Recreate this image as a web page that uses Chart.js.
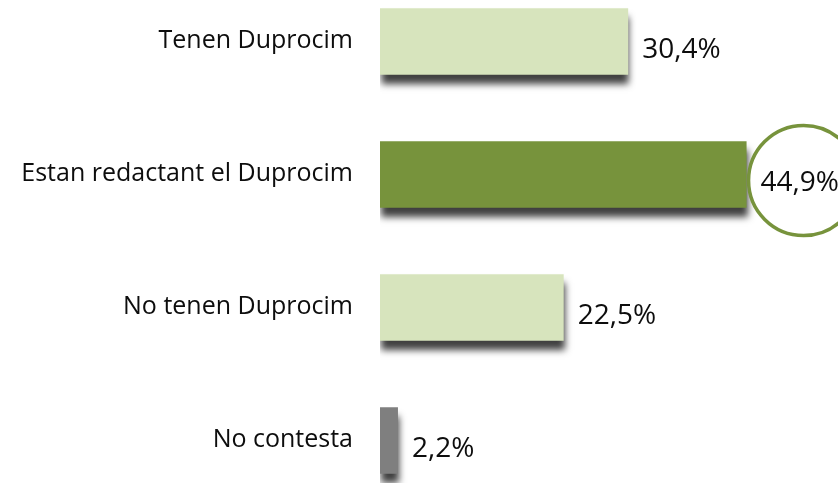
<!DOCTYPE html>
<html>
<head>
<meta charset="utf-8">
<script src="https://cdn.jsdelivr.net/npm/chart.js@4"></script>
<style>
  html, body { margin: 0; padding: 0; background: #fff; overflow: hidden; }
  body { width: 838px; height: 483px; position: relative; }
  #wrap { position: absolute; left: 0; top: -25px; width: 838px; height: 532px; }
</style>
</head>
<body>
<div id="wrap"><canvas id="duprocim"></canvas></div>
<script>
/* Duprocim: estat de redacció (percentatges) */
const CATEGORIES = ['Tenen Duprocim', 'Estan redactant el Duprocim', 'No tenen Duprocim', 'No contesta'];
const VALUES = [30.4, 44.9, 22.5, 2.2];
const VALUE_LABELS = ['30,4%', '44,9%', '22,5%', '2,2%'];
const BAR_COLORS = ['#d7e4bd', '#77933c', '#d7e4bd', '#7f7f7f'];
const HIGHLIGHT = 1; // barra amb cercle

const shadowPlugin = {
  id: 'barShadow',
  beforeDatasetsDraw: function (chart) {
    const ctx = chart.ctx;
    ctx.save();
    ctx.shadowColor = 'rgba(0,0,0,0.75)';
    ctx.shadowBlur = 7;
    ctx.shadowOffsetX = 1;
    ctx.shadowOffsetY = 9;
  },
  afterDatasetsDraw: function (chart) {
    chart.ctx.restore();
  }
};

// etiquetes de categoria (a l'esquerra) i de valor (a la dreta)
const labelPlugin = {
  id: 'valueLabels',
  afterDatasetsDraw: function (chart) {
    const ctx = chart.ctx;
    const meta = chart.getDatasetMeta(0);
    const yScale = chart.scales.y;
    ctx.save();
    ctx.textBaseline = 'middle';
    ctx.fillStyle = '#0d0d0d';

    ctx.font = '500 25px "Open Sans", sans-serif';
    ctx.textAlign = 'right';
    CATEGORIES.forEach(function (name, i) {
      ctx.fillText(name, yScale.right - 27, yScale.getPixelForTick(i) - 1);
    });

    meta.data.forEach(function (bar, i) {
      if (i === HIGHLIGHT) {
        ctx.beginPath();
        ctx.arc(bar.x + 57, bar.y + 6, 55, 0, Math.PI * 2);
        ctx.fillStyle = '#ffffff';
        ctx.fill();
        ctx.lineWidth = 3.5;
        ctx.strokeStyle = '#77933c';
        ctx.stroke();
        ctx.fillStyle = '#0d0d0d';
      }
      ctx.font = '500 28px "Open Sans", sans-serif';
      ctx.textAlign = 'left';
      ctx.fillText(VALUE_LABELS[i], bar.x + 14, bar.y + 9);
    });
    ctx.restore();
  }
};

new Chart(document.getElementById('duprocim'), {
  type: 'bar',
  data: {
    labels: CATEGORIES,
    datasets: [{
      data: VALUES,
      backgroundColor: BAR_COLORS,
      borderWidth: 0,
      barPercentage: 0.5,
      categoryPercentage: 1
    }]
  },
  options: {
    indexAxis: 'y',
    responsive: true,
    maintainAspectRatio: false,
    animation: false,
    layout: { padding: 0 },
    plugins: {
      legend: { display: false },
      tooltip: { enabled: false }
    },
    scales: {
      x: { display: false, min: 0, max: 56.1 },
      y: {
        grid: { display: false, drawTicks: false },
        border: { display: false },
        afterFit: function (scale) {
          scale.width = 380;
          scale.paddingTop = 0;
          scale.paddingBottom = 0;
        },
        ticks: { display: false, padding: 0 }
      }
    }
  },
  plugins: [shadowPlugin, labelPlugin]
});
</script>
</body>
</html>
